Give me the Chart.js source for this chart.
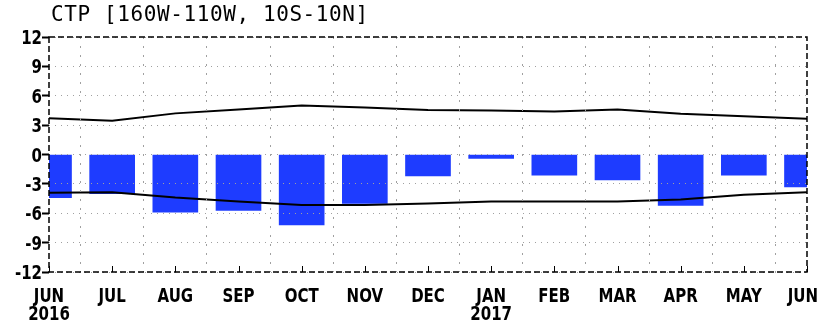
<!DOCTYPE html>
<html lang="en">
<head>
    <meta charset="UTF-8">
    <title>CTP [160W-110W, 10S-10N]</title>
    <script src="https://cdn.jsdelivr.net/npm/chart.js"></script>
    <style>
        body {
            margin: 0;
            background-color: white;
        }
        #chartBox {
            width: 819px;
            height: 323px;
        }
    </style>
</head>
<body>

    <div id="chartBox">
        <canvas id="ctpChart" width="819" height="323"></canvas>
    </div>

    <script>
        // Month labels along the bottom axis (second line = year)
        const months = ['JUN', 'JUL', 'AUG', 'SEP', 'OCT', 'NOV', 'DEC', 'JAN', 'FEB', 'MAR', 'APR', 'MAY', 'JUN'];
        const years = ['2016', '', '', '', '', '', '', '2017', '', '', '', '', ''];

        // Monthly CTP anomaly (bars)
        const anomaly = [-4.4, -4.0, -5.9, -5.7, -7.2, -5.0, -2.2, -0.4, -2.1, -2.6, -5.2, -2.1, -3.3];

        // Upper and lower envelope lines
        const upperLine = [3.7, 3.45, 4.2, 4.6, 5.0, 4.8, 4.55, 4.5, 4.4, 4.6, 4.15, 3.9, 3.65];
        const lowerLine = [-3.9, -3.85, -4.4, -4.8, -5.15, -5.15, -5.0, -4.8, -4.8, -4.8, -4.6, -4.1, -3.85];

        const titleText = 'CTP [160W-110W, 10S-10N]';
        const labelFont = "bold 20px 'DejaVu Sans', sans-serif";
        const squeeze = 0.75; // labels in the original are condensed

        // pair each value with its month index
        function toPoints(values) {
            return values.map((v, i) => ({ x: i, y: v }));
        }

        // condensed text, centred or right aligned at (x, y)
        function narrowText(c, text, x, y, align) {
            // keep centred labels inside the canvas
            if (align === 'center') {
                const half = c.measureText(text).width * squeeze / 2;
                x = Math.min(x, c.canvas.width - half - 1);
            }
            c.save();
            c.translate(x, y);
            c.scale(squeeze, 1);
            c.textAlign = align;
            c.fillText(text, 0, 0);
            c.restore();
        }

        // dashed frame, title, inner x tick marks and axis labels
        const framePlugin = {
            id: 'frame',
            afterDraw(chart) {
                const c = chart.ctx;
                const a = chart.chartArea;
                const xs = chart.scales.x;
                const ys = chart.scales.y;
                c.save();
                c.strokeStyle = '#000';
                c.lineWidth = 1.5;
                c.setLineDash([6, 3]);
                c.strokeRect(a.left, a.top, a.right - a.left, a.bottom - a.top);
                c.setLineDash([]);
                c.lineWidth = 1;
                for (let i = 0; i < months.length; i++) {
                    const px = Math.round(xs.getPixelForValue(i)) + 0.5;
                    c.beginPath();
                    c.moveTo(px, a.bottom);
                    c.lineTo(px, a.bottom - 6);
                    c.stroke();
                }

                c.fillStyle = '#000';
                c.font = labelFont;
                c.textBaseline = 'alphabetic';
                months.forEach((m, i) => {
                    const px = xs.getPixelForValue(i);
                    narrowText(c, m, px, a.bottom + 30, 'center');
                    if (years[i]) narrowText(c, years[i], px, a.bottom + 48, 'center');
                });
                ys.ticks.forEach(t => {
                    const py = ys.getPixelForValue(t.value);
                    narrowText(c, String(t.value), a.left - 7, py + 7, 'right');
                });

                c.font = "21px 'DejaVu Sans Mono', monospace";
                c.letterSpacing = '0.6px';
                c.textAlign = 'left';
                c.fillText(titleText, a.left + 2, a.top - 16);
                c.restore();
            }
        };

        const ctx = document.getElementById('ctpChart').getContext('2d');

        const ctpChart = new Chart(ctx, {
            type: 'bar',
            data: {
                datasets: [
                    {
                        type: 'line',
                        data: toPoints(upperLine),
                        borderColor: '#000',
                        borderWidth: 2,
                        pointRadius: 0,
                        fill: false,
                        order: 0
                    },
                    {
                        type: 'line',
                        data: toPoints(lowerLine),
                        borderColor: '#000',
                        borderWidth: 2,
                        pointRadius: 0,
                        fill: false,
                        order: 0
                    },
                    {
                        data: toPoints(anomaly),
                        backgroundColor: '#1e3cff',
                        borderWidth: 0,
                        barThickness: 45,
                        order: 1
                    }
                ]
            },
            options: {
                responsive: false,
                animation: false,
                layout: {
                    padding: { top: 37, right: 12, bottom: 0, left: 0 }
                },
                plugins: {
                    legend: { display: false },
                    tooltip: { enabled: false }
                },
                scales: {
                    x: {
                        type: 'linear',
                        min: 0,
                        max: 12,
                        offset: false,
                        afterFit: function (scale) {
                            scale.height = 51;
                            scale.paddingLeft = 0;
                            scale.paddingRight = 0;
                        },
                        grid: {
                            color: '#a0a0a0',
                            drawTicks: false,
                            z: 1
                        },
                        border: { display: false, dash: [2, 7] },
                        ticks: {
                            stepSize: 1,
                            display: false
                        }
                    },
                    y: {
                        min: -12,
                        max: 12,
                        afterFit: function (scale) {
                            scale.width = 49;
                            scale.paddingTop = 0;
                            scale.paddingBottom = 0;
                        },
                        grid: {
                            color: '#a0a0a0',
                            tickColor: '#000',
                            tickLength: 7,
                            tickWidth: 2,
                            tickBorderDash: [],
                            z: 1
                        },
                        border: { display: false, dash: [1, 5] },
                        ticks: {
                            stepSize: 3,
                            display: false
                        }
                    }
                }
            },
            plugins: [framePlugin]
        });
    </script>

</body>
</html>
